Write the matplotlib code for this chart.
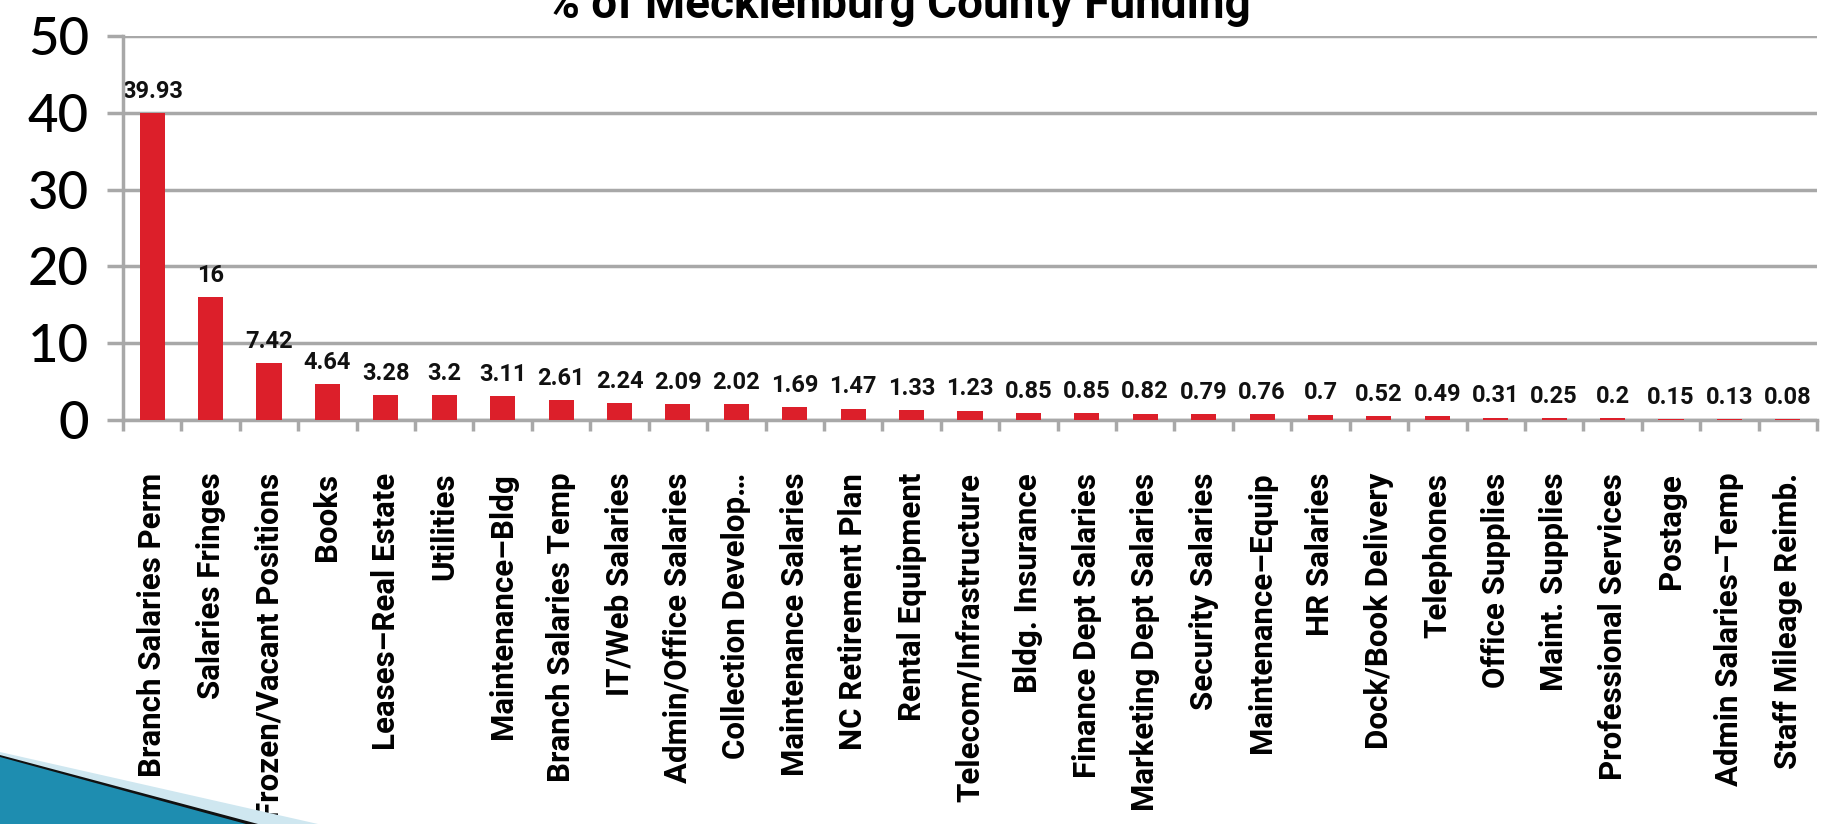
#!/usr/bin/env python3
"""Gráfico de barras: % of Mecklenburg County Funding."""

import matplotlib
matplotlib.use("Agg")
import matplotlib.pyplot as plt
from matplotlib.patches import Polygon

# Datos
categorias = [
    "Branch Salaries Perm", "Salaries Fringes", "Frozen/Vacant Positions", "Books",
    "Leases\u2013Real Estate", "Utilities", "Maintenance\u2013Bldg", "Branch Salaries Temp",
    "IT/Web Salaries", "Admin/Office Salaries", "Collection Develop\u2026",
    "Maintenance Salaries", "NC Retirement Plan", "Rental Equipment",
    "Telecom/Infrastructure", "Bldg. Insurance", "Finance Dept Salaries",
    "Marketing Dept Salaries", "Security Salaries", "Maintenance\u2013Equip",
    "HR Salaries", "Dock/Book Delivery", "Telephones", "Office Supplies",
    "Maint. Supplies", "Professional Services", "Postage", "Admin Salaries\u2013Temp",
    "Staff Mileage Reimb.",
]
valores = [39.93, 16, 7.42, 4.64, 3.28, 3.2, 3.11, 2.61, 2.24, 2.09, 2.02, 1.69,
           1.47, 1.33, 1.23, 0.85, 0.85, 0.82, 0.79, 0.76, 0.7, 0.52, 0.49, 0.31,
           0.25, 0.2, 0.15, 0.13, 0.08]
etiquetas = ["39.93", "16", "7.42", "4.64", "3.28", "3.2", "3.11", "2.61", "2.24",
             "2.09", "2.02", "1.69", "1.47", "1.33", "1.23", "0.85", "0.85", "0.82",
             "0.79", "0.76", "0.7", "0.52", "0.49", "0.31", "0.25", "0.2", "0.15",
             "0.13", "0.08"]
yticks = [0, 10, 20, 30, 40, 50]

W, H = 1823, 824
ROJO = "#dc1f2a"
GRIS = "#a8a8a8"

fig = plt.figure(figsize=(W / 100, H / 100), dpi=100)
ax = fig.add_axes([123 / W, 1 - 420 / H, (1817 - 123) / W, (420 - 36) / H])

n = len(categorias)
x = list(range(n))
ax.bar(x, valores, width=0.43, color=ROJO, zorder=3)
ax.set_xlim(-0.5, n - 0.5)
ax.set_ylim(0, 50)

# Etiquetas de valor
for xi, v, t in zip(x, valores, etiquetas):
    ax.annotate(t, (xi, v), xytext=(0, 11), textcoords="offset points",
                ha="center", va="baseline", fontsize=17, fontweight="bold",
                family="Roboto", color="#111111")

# Ejes y cuadrícula
ax.set_yticks(yticks)
ax.set_yticklabels([str(t) for t in yticks], family="Lato", fontsize=38,
                   fontweight="medium")
ax.grid(axis="y", color=GRIS, linewidth=2.5, zorder=0)
ax.tick_params(axis="y", length=11.5, width=2.5, color=GRIS, pad=13)

ax.set_xticks([i - 0.5 for i in range(n + 1)], minor=False)
ax.set_xticklabels([""] * (n + 1))
ax.set_xticks(x, minor=True)
ax.set_xticklabels(categorias, minor=True, rotation=90, family="Roboto",
                   fontweight="bold", fontsize=22.5)
ax.tick_params(axis="x", which="major", length=8, width=2.5, color=GRIS)
ax.tick_params(axis="x", which="minor", length=0, pad=38)

for lado in ["top", "right"]:
    ax.spines[lado].set_visible(False)
for lado in ["left", "bottom"]:
    ax.spines[lado].set_color(GRIS)
    ax.spines[lado].set_linewidth(2.5)
ax.spines["left"].set_zorder(4)

# Título (cortado arriba como en la imagen)
fig.text(898 / W, 1 - 18 / H, "% of Mecklenburg County Funding", ha="center",
         va="baseline", fontsize=33, fontweight="bold", family="Roboto")


# Decoración azul en la esquina inferior izquierda
def px(puntos):
    return [(a / W, 1 - b / H) for a, b in puntos]


fig.patches.append(Polygon(px([(0, 752), (318, 824), (0, 824)]), closed=True,
                           facecolor="#cfe7f0", edgecolor="none",
                           transform=fig.transFigure, figure=fig))
fig.patches.append(Polygon(px([(0, 755), (258, 824), (0, 824)]),
                           closed=True, facecolor="#111111", edgecolor="none",
                           transform=fig.transFigure, figure=fig))
fig.patches.append(Polygon(px([(0, 757), (246, 824), (0, 824)]), closed=True,
                           facecolor="#1e8db0", edgecolor="none",
                           transform=fig.transFigure, figure=fig))

fig.savefig("out.png", dpi=100)
